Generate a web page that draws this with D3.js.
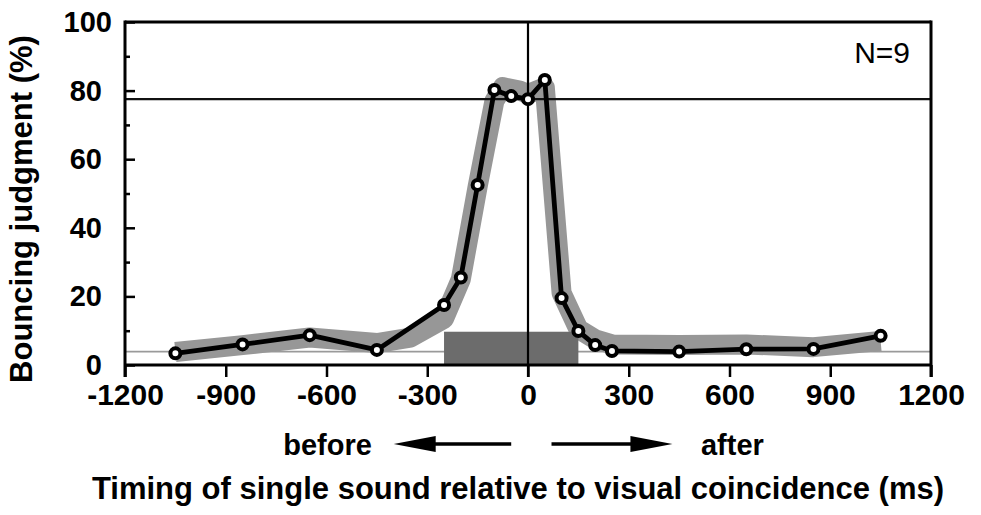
<!DOCTYPE html>
<html>
<head>
<meta charset="utf-8">
<script src="https://cdn.jsdelivr.net/npm/d3@7"></script>
<style>
  html, body { margin: 0; padding: 0; background: #fff; }
  svg { display: block; }
  text { font-family: "Liberation Sans", Arial, Helvetica, sans-serif; fill: #000; }
</style>
</head>
<body>
<svg id="chart" width="981" height="515"></svg>
<script>
// ---- data ----
const xTickValues = [-1200, -900, -600, -300, 0, 300, 600, 900, 1200];
const yTickValues = [0, 20, 40, 60, 80, 100];
const yMinorTickValues = [10, 30, 50, 70, 90];

// sound timing (ms) and mean bouncing judgment (%)
const timingMs    = [-1050, -850, -650, -450, -250, -200, -150, -100, -50, 0, 50, 100, 150, 200, 250, 450, 650, 850, 1050];
const bouncingPct = [3.4, 6.0, 8.7, 4.4, 17.5, 25.5, 52.5, 80.2, 78.4, 77.5, 83.1, 19.5, 9.9, 5.8, 4.1, 3.9, 4.6, 4.7, 8.5];

// centre of the grey variability band
const bandMs  = [-1050, -850, -650, -450, -350, -250, -200, -150, -100, -75, -25, 0, 50, 100, 150, 200, 250, 450, 650, 850, 1050];
const bandPct = [3.8, 5.8, 8.0, 6.4, 8.0, 13.5, 25.0, 52.0, 77.0, 81.0, 80.0, 79.0, 81.0, 21.0, 10.5, 7.5, 6.0, 5.8, 6.0, 5.2, 7.0];

const referenceHighPct = 77.5;   // solid horizontal reference line
const referenceLowPct = 3.9;     // faint horizontal baseline
const stimulusMs = [-250, 150];  // shaded visual-coincidence period
const stimulusTopPct = 9.7;

const nLabel = "N=9";
const yTitle = "Bouncing judgment (%)";
const xTitle = "Timing of single sound relative to visual coincidence (ms)";

// ---- drawing ----
const svg = d3.select("#chart");
const x = d3.scaleLinear().domain([-1200, 1200]).range([125, 931]);
const y = d3.scaleLinear().domain([0, 100]).range([365, 22]);

svg.append("rect").attr("width", 981).attr("height", 515).attr("fill", "#fff");

// faint low line
svg.append("line")
  .attr("x1", x(-1200)).attr("x2", x(1200))
  .attr("y1", y(referenceLowPct)).attr("y2", y(referenceLowPct))
  .attr("stroke", "#9a9a9a").attr("stroke-width", 1.6);

// grey band
const bandData = bandMs.map((m, i) => [m, bandPct[i]]);
svg.append("path")
  .datum(bandData)
  .attr("d", d3.line().x(d => x(d[0])).y(d => y(d[1])))
  .attr("fill", "none")
  .attr("stroke", "#979797")
  .attr("stroke-width", 20)
  .attr("stroke-linejoin", "round")
  .attr("stroke-linecap", "butt");

// stimulus rect
svg.append("rect")
  .attr("x", x(stimulusMs[0]))
  .attr("y", y(stimulusTopPct))
  .attr("width", x(stimulusMs[1]) - x(stimulusMs[0]))
  .attr("height", y(0) - y(stimulusTopPct))
  .attr("fill", "#6c6c6c");

// reference line at high level
svg.append("line")
  .attr("x1", x(-1200)).attr("x2", x(1200))
  .attr("y1", y(referenceHighPct)).attr("y2", y(referenceHighPct))
  .attr("stroke", "#111").attr("stroke-width", 2.2);

// zero line
svg.append("line")
  .attr("x1", x(0)).attr("x2", x(0))
  .attr("y1", y(100)).attr("y2", y(0) + 12)
  .attr("stroke", "#000").attr("stroke-width", 2.2);

// axes
const yAxis = d3.axisLeft(y).tickValues(yTickValues).tickSize(-10).tickPadding(23)
  .tickFormat(d => String(d));
const gy = svg.append("g").attr("transform", `translate(${x(-1200)},0)`).call(yAxis);
gy.select(".domain").remove();
gy.selectAll(".tick line").attr("stroke", "#000").attr("stroke-width", 2.5);
gy.selectAll(".tick text")
  .attr("font-size", 29).attr("font-weight", "bold")
  .attr("dx", d => d === 100 ? 10 : 0)
  .attr("dy", "0.33em");

const yMinor = d3.axisLeft(y).tickValues(yMinorTickValues).tickSize(-5).tickFormat("");
const gym = svg.append("g").attr("transform", `translate(${x(-1200)},0)`).call(yMinor);
gym.select(".domain").remove();
gym.selectAll(".tick line").attr("stroke", "#000").attr("stroke-width", 2.5);

const xAxis = d3.axisBottom(x).tickValues(xTickValues).tickSize(12).tickPadding(7)
  .tickFormat(d => String(d));
const gx = svg.append("g").attr("transform", `translate(0,${y(0)})`).call(xAxis);
gx.select(".domain").remove();
gx.selectAll(".tick line").attr("stroke", "#000").attr("stroke-width", 2.5);
gx.selectAll(".tick text").attr("font-size", 30).attr("font-weight", "bold");

// frame
const frame = svg.append("g").attr("stroke", "#000").attr("stroke-width", 3).attr("fill", "none");
frame.append("line").attr("x1", x(-1200)).attr("x2", x(1200)).attr("y1", y(100)).attr("y2", y(100));
frame.append("line").attr("x1", x(-1200)).attr("x2", x(1200)).attr("y1", y(0)).attr("y2", y(0));
frame.append("line").attr("x1", x(-1200)).attr("x2", x(-1200)).attr("y1", y(100) - 1.5).attr("y2", y(0) + 12);
frame.append("line").attr("x1", x(1200)).attr("x2", x(1200)).attr("y1", y(100) - 1.5).attr("y2", y(0) + 12);

// data line + markers
const pts = timingMs.map((m, i) => [m, bouncingPct[i]]);
svg.append("path")
  .datum(pts)
  .attr("d", d3.line().x(d => x(d[0])).y(d => y(d[1])))
  .attr("fill", "none").attr("stroke", "#000").attr("stroke-width", 4.8)
  .attr("stroke-linejoin", "round");
svg.selectAll("circle.pt").data(pts).join("circle")
  .attr("class", "pt")
  .attr("cx", d => x(d[0])).attr("cy", d => y(d[1]))
  .attr("r", 5)
  .attr("fill", "#fff").attr("stroke", "#000").attr("stroke-width", 4);

// N label
svg.append("text").attr("x", 910).attr("y", 63)
  .attr("text-anchor", "end").attr("font-size", 30).text(nLabel);

// y title
svg.append("text")
  .attr("transform", `translate(32,${209}) rotate(-90)`)
  .attr("text-anchor", "middle").attr("font-size", 31).attr("font-weight", "bold")
  .text(yTitle);

// x title
svg.append("text").attr("x", 518).attr("y", 499)
  .attr("text-anchor", "middle").attr("font-size", 31).attr("font-weight", "bold")
  .text(xTitle);

// direction arrows
const arrowY = 444;
const arrows = [
  { from: -50, to: -400 },
  { from: 70, to: 430 }
];
arrows.forEach(a => {
  const x0 = x(a.from), x1 = x(a.to);
  const dir = Math.sign(x1 - x0);
  const headLen = 42, headHalf = 8;
  svg.append("line")
    .attr("x1", x0).attr("x2", x1 - dir * headLen + dir * 2)
    .attr("y1", arrowY).attr("y2", arrowY)
    .attr("stroke", "#000").attr("stroke-width", 3.5);
  svg.append("path")
    .attr("d", `M${x1},${arrowY} L${x1 - dir * headLen},${arrowY - headHalf} L${x1 - dir * headLen},${arrowY + headHalf} Z`)
    .attr("fill", "#000");
});
svg.append("text").attr("x", x(-465)).attr("y", 455)
  .attr("text-anchor", "end").attr("font-size", 29).attr("font-weight", "bold").text("before");
svg.append("text").attr("x", x(515)).attr("y", 455)
  .attr("text-anchor", "start").attr("font-size", 29).attr("font-weight", "bold").text("after");
</script>
</body>
</html>
